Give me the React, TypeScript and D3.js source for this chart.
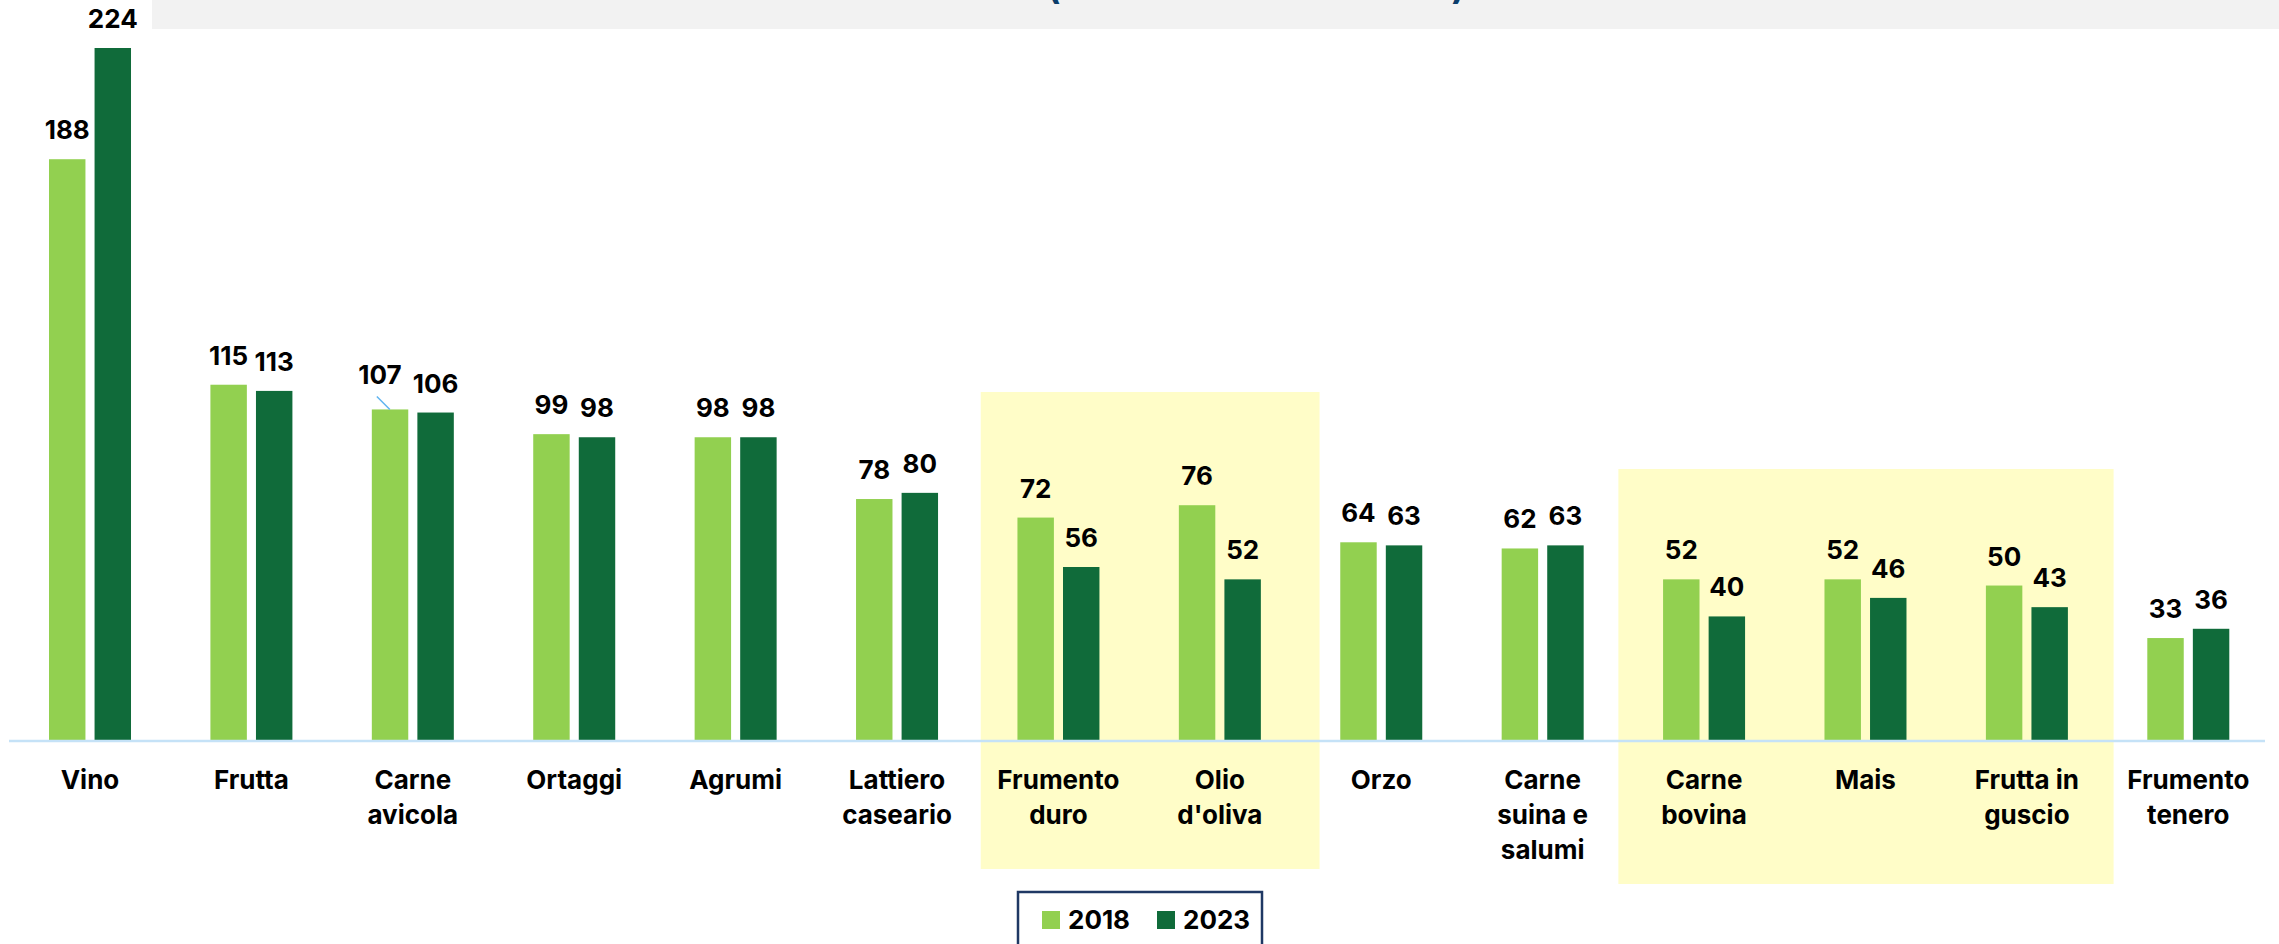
import * as d3 from 'd3';

const categories = [
  'Vino',
  'Frutta',
  'Carne avicola',
  'Ortaggi',
  'Agrumi',
  'Lattiero caseario',
  'Frumento duro',
  "Olio d'oliva",
  'Orzo',
  'Carne suina e salumi',
  'Carne bovina',
  'Mais',
  'Frutta in guscio',
  'Frumento tenero',
];

// how each category label breaks into lines
const categoryLines = [
  ['Vino'],
  ['Frutta'],
  ['Carne', 'avicola'],
  ['Ortaggi'],
  ['Agrumi'],
  ['Lattiero', 'caseario'],
  ['Frumento', 'duro'],
  ['Olio', "d'oliva"],
  ['Orzo'],
  ['Carne', 'suina e', 'salumi'],
  ['Carne', 'bovina'],
  ['Mais'],
  ['Frutta in', 'guscio'],
  ['Frumento', 'tenero'],
];

const series = ['2018', '2023'];
const values2018 = [188, 115, 107, 99, 98, 78, 72, 76, 64, 62, 52, 52, 50, 33];
const values2023 = [224, 113, 106, 98, 98, 80, 56, 52, 63, 63, 40, 46, 43, 36];

// highlighted groups of categories
const highlightFrom = ['Frumento duro', 'Carne bovina'];
const highlightTo = ["Olio d'oliva", 'Frutta in guscio'];

// box geometry for the highlights (left pad, right pad, top, bottom)
const HL_BOX = [
  { l: 3, r: 19, top: 392, bottom: 869 },
  { l: -5, r: 6, top: 469, bottom: 884 },
];

const COLORS: Record<string, string> = { '2018': '#92D050', '2023': '#106B3A' };
const FONT = 'Inter, "Noto Sans", sans-serif';

export default function App() {
  const width = 2279;
  const height = 944;
  const baseY = 740;

  const x = d3.scaleBand().domain(categories).range([9.3, 2269]).padding(0);
  const x1 = d3.scaleBand().domain(series).range([-41, 41]).paddingInner(0.2);
  const y = d3.scaleLinear().domain([0, 224]).range([baseY, 48]);

  const rows = categories.map((c, i) => ({
    cat: c,
    lines: categoryLines[i],
    vals: [
      { s: '2018', v: values2018[i] },
      { s: '2023', v: values2023[i] },
    ],
  }));

  return (
    <div style={{ position: 'absolute', left: 0, top: 0, background: '#fff' }}>
      <svg width={width} height={height} viewBox={`0 0 ${width} ${height}`} style={{ display: 'block' }}>
        <rect x={0} y={0} width={width} height={height} fill='#fff' />
        {/* title strip, cut off at the top */}
        <rect x={152} y={0} width={width - 152} height={29} fill='#F2F2F2' />
        <text
          x={1047}
          y={-1}
          fontFamily={FONT}
          fontSize={36}
          fontWeight={700}
          fill='#0B3D6B'
          textLength={418}
          lengthAdjust='spacingAndGlyphs'
        >
          (valori in milioni di euro)
        </text>

        {highlightFrom.map((from, i) => {
          const box = HL_BOX[i];
          const x0 = (x(from) ?? 0) + box.l;
          const xEnd = (x(highlightTo[i]) ?? 0) + x.bandwidth() + box.r;
          return (
            <rect key={from} x={x0} y={box.top} width={xEnd - x0} height={box.bottom - box.top} fill='#FFFDC8' />
          );
        })}

        {rows.map((r) => {
          const cx = (x(r.cat) ?? 0) + x.bandwidth() / 2;
          return (
            <g key={r.cat}>
              {r.vals.map((d) => {
                const bx = cx + (x1(d.s) ?? 0);
                const bw = x1.bandwidth();
                const top = y(d.v);
                const shifted = r.cat === 'Carne avicola' && d.s === '2018';
                const lx = shifted ? bx + bw / 2 - 10 : bx + bw / 2;
                const ly = shifted ? top - 25 : top - 20;
                return (
                  <g key={d.s}>
                    <rect x={bx} y={top} width={bw} height={baseY - top} fill={COLORS[d.s]} />
                    {shifted && (
                      <line x1={bx + 5} y1={top - 13} x2={bx + 18} y2={top} stroke='#5FB4F0' strokeWidth={1.5} />
                    )}
                    <text
                      x={lx}
                      y={ly}
                      textAnchor='middle'
                      fontFamily={FONT}
                      fontSize={26}
                      fontWeight={700}
                      fill='#000'
                    >
                      {d.v}
                    </text>
                  </g>
                );
              })}
              {r.lines.map((ln, k) => (
                <text
                  key={k}
                  x={cx}
                  y={789 + k * 35}
                  textAnchor='middle'
                  fontFamily={FONT}
                  fontSize={26}
                  fontWeight={700}
                  fill='#000'
                >
                  {ln}
                </text>
              ))}
            </g>
          );
        })}

        <line x1={9} x2={2265} y1={baseY + 1} y2={baseY + 1} stroke='#C5E2F7' strokeWidth={2.5} />

        {/* legend */}
        <rect x={1018} y={892} width={244} height={70} fill='#fff' stroke='#1F3864' strokeWidth={2.5} />
        {series.map((s, i) => (
          <g key={s} transform={`translate(${1042 + i * 115},911)`}>
            <rect x={0} y={0} width={18} height={18} fill={COLORS[s]} />
            <text x={26} y={18} fontFamily={FONT} fontSize={26} fontWeight={700} fill='#000'>
              {s}
            </text>
          </g>
        ))}
      </svg>
    </div>
  );
}
